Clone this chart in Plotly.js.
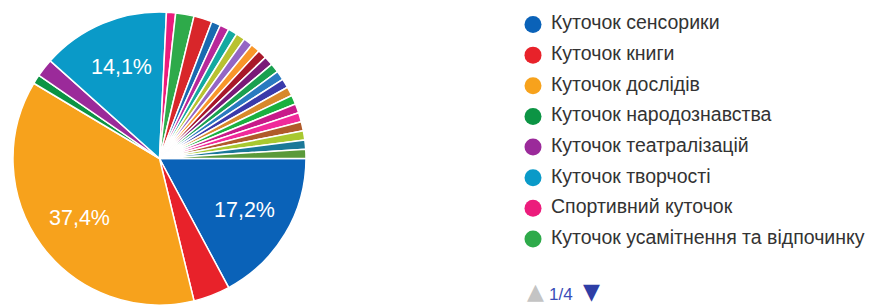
<!DOCTYPE html>
<html>
<head>
<meta charset="utf-8">
<script src="https://cdn.plot.ly/plotly-3.0.1.min.js"></script>
<style>html,body{margin:0;padding:0;background:#fff;}#chart{width:872px;height:305px;}</style>
</head>
<body>
<div id="chart"></div>
<script>
// Categories (only the first 8 are listed on page 1/4 of the legend)
const categories = [
  "Куточок сенсорики", "Куточок книги", "Куточок дослідів", "Куточок народознавства",
  "Куточок театралізацій", "Куточок творчості", "Спортивний куточок", "Куточок усамітнення та відпочинку",
  "Варіант 9", "Варіант 10", "Варіант 11", "Варіант 12", "Варіант 13", "Варіант 14",
  "Варіант 15", "Варіант 16", "Варіант 17", "Варіант 18", "Варіант 19", "Варіант 20",
  "Варіант 21", "Варіант 22", "Варіант 23", "Варіант 24", "Варіант 25", "Варіант 26",
  "Варіант 27", "Варіант 28"
];
// Response counts (total 99)
const counts = [17, 4, 37, 1, 2, 14, 1, 2, 2, 1, 1, 1, 1, 1, 1, 1, 1, 1, 1, 1, 1, 1, 1, 1, 1, 1, 1, 1];
const colors = [
  "#0a62b8", "#e8222a", "#f7a21c", "#0c9444", "#9b2a9a", "#0a9ac8", "#ec1c7c", "#2eaa4a",
  "#d8262a", "#1a6ab0", "#b8289a", "#14a9a0", "#b8c230", "#9466c4", "#f8962a", "#a8182a",
  "#7a1a78", "#1aa050", "#2a7ac0", "#3a3aaa", "#d8882a", "#1ab040", "#c81a8a", "#f02a9a",
  "#b05a2a", "#a8c830", "#1a7898", "#5a9a3a"
];
const legendShown = 8;
const pageLabel = "1/4";

const FONT = "Liberation Sans, Arial, sans-serif";
const W = 872, H = 305, MT = 12;
const total = counts.reduce((a, b) => a + b, 0);

// pie geometry (domain) – labels placed at each big slice's mid-angle
const pieDomX = [0.0109, 0.3549];
const cx = (pieDomX[0] + pieDomX[1]) / 2 * W;
const plotH = H - MT;
const R = plotH / 2, cy = MT + R;
const startDeg = 0; // 3 o'clock, clockwise (matches rotation: 90 below)
const pieAnnotations = [];
let acc = 0;
counts.forEach(v => {
  const share = v / total;
  if (share > 0.05) {
    const mid = (startDeg + (acc + v / 2) / total * 360) * Math.PI / 180;
    const px = cx + 0.68 * R * Math.cos(mid);
    const py = cy + 0.68 * R * Math.sin(mid);
    pieAnnotations.push({
      xref: "paper", yref: "paper", x: px / W, y: 1 - (py - MT) / plotH,
      xanchor: "center", yanchor: "middle", showarrow: false,
      text: (share * 100).toFixed(1).replace(".", ",") + "%",
      font: { size: 21.5, color: "#ffffff", family: FONT }
    });
  }
  acc += v;
});

const legendIdx = categories.slice(0, legendShown).map((_, i) => i);

const traces = [
  {
    type: "pie",
    labels: categories,
    values: counts,
    sort: false,
    direction: "clockwise",
    rotation: 90,
    marker: { colors: colors, line: { color: "#ffffff", width: 1.5 } },
    textinfo: "none",
    hoverinfo: "label+percent",
    showlegend: false,
    domain: { x: pieDomX, y: [0, 1] }
  },
  // legend page 1/4: coloured dots
  {
    type: "scatter", mode: "markers",
    x: legendIdx.map(() => 20), y: legendIdx,
    marker: { color: colors.slice(0, legendShown), size: 17, symbol: "circle" },
    xaxis: "x", yaxis: "y", cliponaxis: false, hoverinfo: "skip", showlegend: false
  },
  // legend page 1/4: labels
  {
    type: "scatter", mode: "text",
    x: legendIdx.map(() => 38), y: legendIdx,
    text: categories.slice(0, legendShown),
    textposition: "middle right",
    textfont: { size: 19.5, color: "#333333", family: FONT },
    xaxis: "x", yaxis: "y", cliponaxis: false, hoverinfo: "skip", showlegend: false
  }
];

const layout = {
  width: W, height: H,
  margin: { l: 0, r: 0, t: MT, b: 0 },
  paper_bgcolor: "#ffffff",
  plot_bgcolor: "rgba(0,0,0,0)",
  separators: ", ",
  font: { family: FONT, color: "#333333" },
  showlegend: false,
  xaxis: { visible: false, domain: [513 / W, 1], range: [0, 359], fixedrange: true },
  yaxis: { visible: false, domain: [0, 1], range: [(H - 24) / 30.7, -12.5 / 30.7], fixedrange: true },
  annotations: pieAnnotations.concat([
    {
      xref: "paper", yref: "paper", x: 535 / W, xanchor: "center",
      y: 0, yanchor: "bottom", showarrow: false, borderpad: 0,
      text: "▲", font: { size: 22, color: "#c4c4c4", family: "DejaVu Sans" }
    },
    {
      xref: "paper", yref: "paper", x: 548 / W, xanchor: "left",
      y: 0, yanchor: "bottom", showarrow: false, borderpad: 0,
      text: pageLabel, font: { size: 17, color: "#3a4db8", family: FONT }
    },
    {
      xref: "paper", yref: "paper", x: 591 / W, xanchor: "center",
      y: 0, yanchor: "bottom", showarrow: false, borderpad: 0,
      text: "▼", font: { size: 22, color: "#2e3ea6", family: "DejaVu Sans" }
    }
  ])
};

Plotly.newPlot("chart", traces, layout, { displayModeBar: false, staticPlot: true });
</script>
</body>
</html>
